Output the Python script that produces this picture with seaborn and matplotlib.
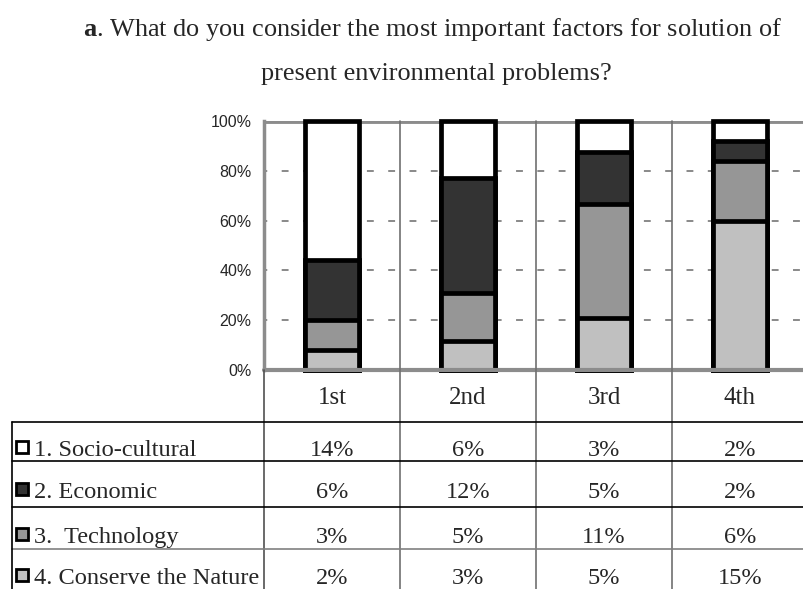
import matplotlib.pyplot as plt
import numpy as np
import pandas as pd
import seaborn as sns
from matplotlib.lines import Line2D
from matplotlib.transforms import blended_transform_factory

# table values (as printed under the chart)
ranks = ["1st", "2nd", "3rd", "4th"]
socio = [14, 6, 3, 2]
economic = [6, 12, 5, 2]
technology = [3, 5, 11, 6]
conserve = [2, 3, 5, 15]

row_labels = ["1. Socio-cultural", "2. Economic", "3.  Technology", "4. Conserve the Nature"]
row_colors = ["#ffffff", "#333333", "#969696", "#c0c0c0"]

sns.set_style("white")
plt.rcParams["font.family"] = ["Liberation Serif", "DejaVu Serif"]
plt.rcParams["mathtext.fontset"] = "custom"
plt.rcParams["mathtext.rm"] = "Liberation Serif"
plt.rcParams["mathtext.bf"] = "Liberation Serif:bold"

W, H = 804, 589
fig = plt.figure(figsize=(W / 100, H / 100), dpi=100)


def fx(p):
    return p / W


def fy(p):
    return 1 - p / H


ax = fig.add_axes([fx(264), fy(370), fx(808) - fx(264), fy(121) - fy(370)])

# stacked shares (bottom -> top: conserve, technology, economic, socio)
df = pd.DataFrame({"rank": ranks, "socio": socio, "economic": economic,
                   "technology": technology, "conserve": conserve})
total = df[["socio", "economic", "technology", "conserve"]].sum(axis=1)
stack = ["conserve", "technology", "economic", "socio"]
cum = np.zeros(len(df))
for col in stack:
    cum = cum + df[col] / total * 100
    df[col + "_top"] = cum

colors = dict(zip(["socio", "economic", "technology", "conserve"], row_colors))

# grid
for y in [20, 40, 60, 80]:
    ax.axhline(y, color="#808080", lw=1.3, ls=(2, (3.8, 8)), zorder=1)
ax.axhline(100, color="#8c8c8c", lw=3.5, zorder=1)

# draw tallest first so each lower segment sits on top
for col in reversed(stack):
    sns.barplot(data=df, x="rank", y=col + "_top", order=ranks, color=colors[col],
                saturation=1, width=0.4, edgecolor="black", linewidth=3.4,
                ax=ax, zorder=3)
for p in ax.patches:
    p.set_clip_on(False)

ax.axhline(0, color="#8c8c8c", lw=3, zorder=4, clip_on=False)

ax.set_xlim(-0.5, 3.5)
ax.set_ylim(0, 100)
ax.set_xlabel("")
ax.set_ylabel("")
for s in ax.spines.values():
    s.set_visible(False)
ax.spines["left"].set_visible(True)
ax.spines["left"].set_color("#8c8c8c")
ax.spines["left"].set_linewidth(2.5)

ax.set_yticks([0, 20, 40, 60, 80, 100])
ax.set_yticklabels(["0%", "20%", "40%", "60%", "80%", "100%"],
                   fontfamily="Liberation Sans", fontsize=11.5)
ax.tick_params(axis="y", length=0, pad=9)
ax.tick_params(axis="x", length=0, pad=12, labelsize=18)

# table lines
bt = blended_transform_factory(ax.transData, fig.transFigure)
for xb in [0.5, 1.5, 2.5]:
    fig.add_artist(Line2D([xb, xb], [fy(121), fy(589)], color="#707070", lw=1.2, transform=bt))
fig.add_artist(Line2D([-0.5, -0.5], [fy(370), fy(589)], color="#505050", lw=1.2, transform=bt))
for yl, c in zip([422, 461, 507, 549], ["black", "black", "black", "#808080"]):
    fig.add_artist(Line2D([fx(12), fx(804)], [fy(yl), fy(yl)], color=c, lw=1.2))
fig.add_artist(Line2D([fx(12), fx(12)], [fy(422), fy(589)], color="black", lw=1.2))

# table body
values = [socio, economic, technology, conserve]
baselines = [456, 498, 543, 584]
for lab, c, vals, yb in zip(row_labels, row_colors, values, baselines):
    fig.add_artist(Line2D([fx(22)], [fy(yb - 9)], marker="s", markersize=8,
                          markerfacecolor=c, markeredgecolor="black",
                          markeredgewidth=2, transform=fig.transFigure))
    fig.text(fx(34), fy(yb), lab, ha="left", va="baseline", fontsize=17.6)
    for i, v in enumerate(vals):
        fig.text(i, fy(yb), f"{v}%", ha="center", va="baseline", fontsize=17.5,
                 transform=bt)

# title
fig.text(fx(432), fy(36), r"$\mathbf{a}$. What do you consider the most important factors for solution of",
         ha="center", va="baseline", fontsize=18.9)
fig.text(fx(436), fy(80), "present environmental problems?",
         ha="center", va="baseline", fontsize=18.9)

fig.savefig("out.png", dpi=100)
